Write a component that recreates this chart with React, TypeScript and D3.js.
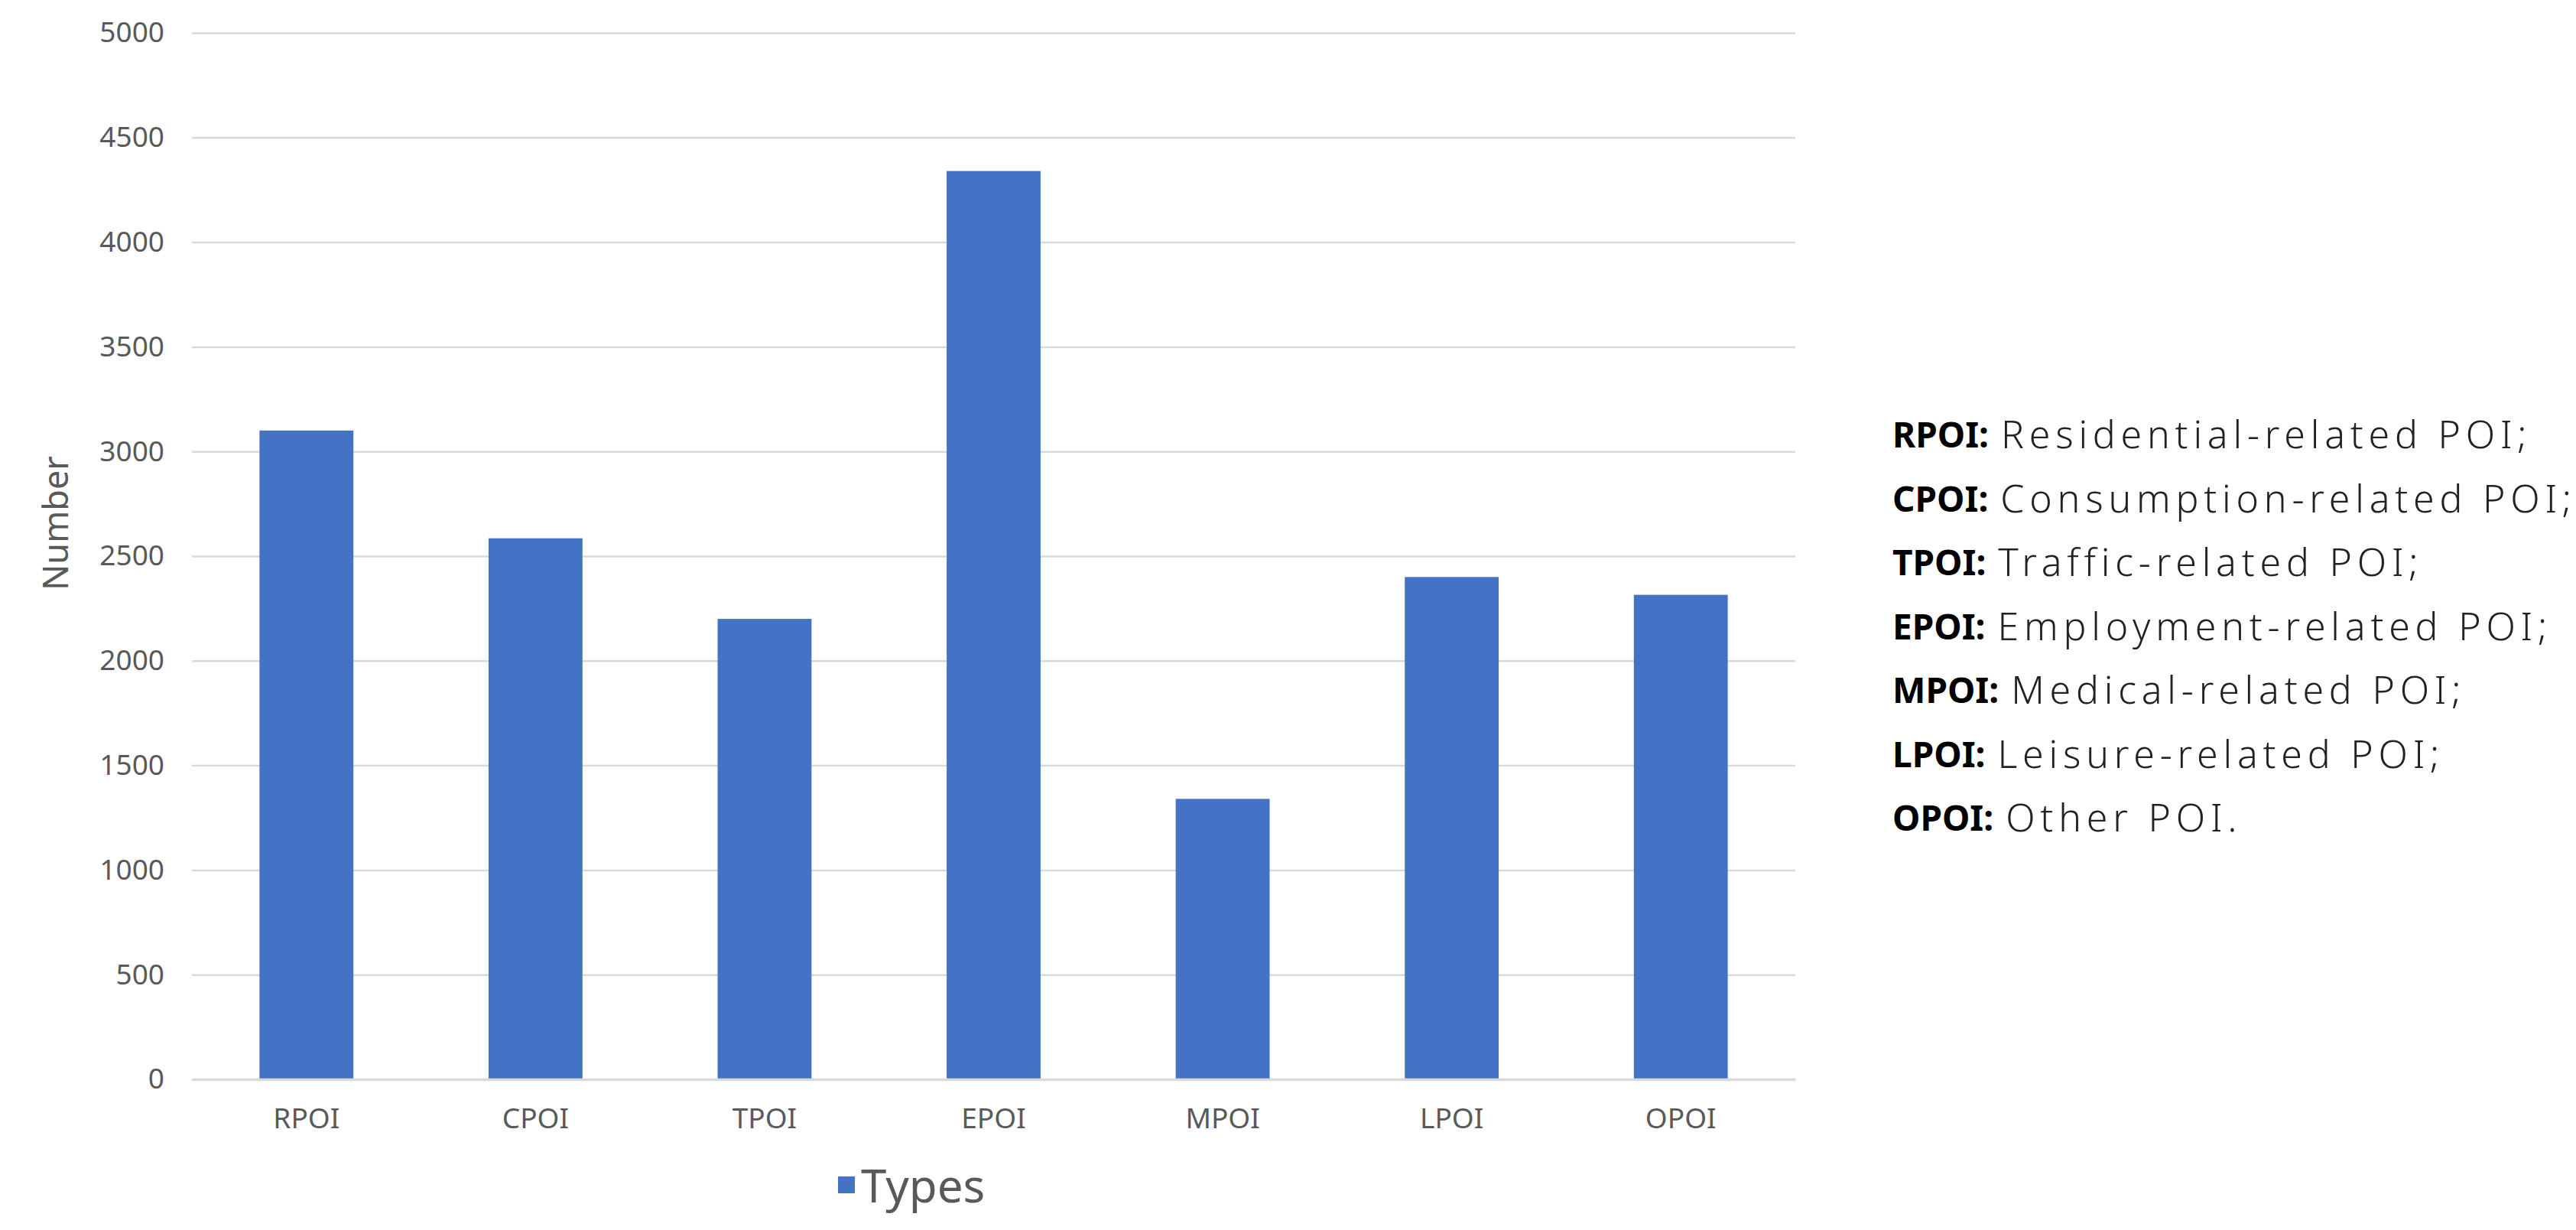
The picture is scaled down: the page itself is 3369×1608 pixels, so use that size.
import React, { useEffect, useRef } from 'react';
import * as d3 from 'd3';

// chart data
const categories = ['RPOI', 'CPOI', 'TPOI', 'EPOI', 'MPOI', 'LPOI', 'OPOI'];
const counts = [3100, 2585, 2200, 4340, 1340, 2400, 2315];
const yTicks = [0, 500, 1000, 1500, 2000, 2500, 3000, 3500, 4000, 4500, 5000];
const seriesName = 'Types';
const notePrefixes = ['RPOI:', 'CPOI:', 'TPOI:', 'EPOI:', 'MPOI:', 'LPOI:', 'OPOI:'];
const noteTexts = [
    'Residential-related POI;',
    'Consumption-related POI;',
    'Traffic-related POI;',
    'Employment-related POI;',
    'Medical-related POI;',
    'Leisure-related POI;',
    'Other POI.',
];

const App = () => {
    const svgRef = useRef<SVGSVGElement>(null);

    useEffect(() => {
        document.body.style.margin = '0';
        const W = 3369;
        const H = 1608;
        const margin = { top: 43, left: 251, right: W - 2348, bottom: H - 1411 };
        const width = W - margin.left - margin.right;
        const height = H - margin.top - margin.bottom;
        const font = "'Noto Sans', 'Open Sans', sans-serif";

        const svg = d3.select(svgRef.current)
            .attr('width', W)
            .attr('height', H);
        svg.selectAll('*').remove();

        svg.append('rect').attr('width', W).attr('height', H).attr('fill', '#ffffff');

        const g = svg.append('g')
            .attr('transform', `translate(${margin.left},${margin.top})`);

        const xScale = d3.scaleBand()
            .domain(categories)
            .range([0, width])
            .paddingInner(0.59)
            .paddingOuter(0.295);

        const yScale = d3.scaleLinear()
            .domain([0, 5000])
            .range([height, 0]);

        // gridlines + y labels
        const yAxis = g.append('g')
            .call(d3.axisLeft(yScale).tickValues(yTicks).tickFormat(d3.format('d')).tickSize(-width).tickPadding(36));
        yAxis.select('.domain').remove();
        yAxis.selectAll('.tick line')
            .attr('stroke', '#d9d9d9')
            .attr('stroke-width', 2.5);
        yAxis.selectAll('.tick text')
            .attr('fill', '#595959')
            .attr('font-family', font)
            .attr('font-size', 37);

        const bars = categories.map((c, i) => ({ c, v: counts[i] }));
        g.selectAll('.bar')
            .data(bars)
            .enter()
            .append('rect')
            .attr('x', d => xScale(d.c)!)
            .attr('y', d => yScale(d.v))
            .attr('width', xScale.bandwidth())
            .attr('height', d => height - yScale(d.v))
            .attr('fill', '#4472c4');

        const xAxis = g.append('g')
            .attr('transform', `translate(0,${height})`)
            .call(d3.axisBottom(xScale).tickSize(0).tickPadding(38));
        xAxis.select('.domain')
            .attr('stroke', '#d9d9d9')
            .attr('stroke-width', 3.5);
        xAxis.selectAll('.tick text')
            .attr('fill', '#595959')
            .attr('font-family', font)
            .attr('font-size', 37);

        // axis title
        svg.append('text')
            .attr('transform', `translate(71,${(margin.top + margin.top + height) / 2 - 43}) rotate(-90)`)
            .attr('text-anchor', 'middle')
            .attr('dominant-baseline', 'central')
            .attr('fill', '#595959')
            .attr('font-family', font)
            .attr('font-size', 45)
            .text('Number');

        // legend
        const legend = svg.append('g').attr('transform', 'translate(1096,1549)');
        legend.append('rect')
            .attr('x', 0)
            .attr('y', -11)
            .attr('width', 22)
            .attr('height', 22)
            .attr('fill', '#4472c4');
        legend.append('text')
            .attr('x', 30)
            .attr('y', 0)
            .attr('dominant-baseline', 'central')
            .attr('fill', '#595959')
            .attr('font-family', font)
            .attr('font-size', 60)
            .text(seriesName);

        // abbreviation notes
        const notes = svg.append('g').attr('transform', 'translate(2475,567)');
        notePrefixes.forEach((p, i) => {
            const t = notes.append('text')
                .attr('x', 0)
                .attr('y', i * 83.5)
                .attr('dominant-baseline', 'central')
                .attr('font-family', font)
                .attr('font-size', 46);
            t.append('tspan').attr('font-weight', 'bold').attr('fill', '#000').text(p);
            t.append('tspan')
                .attr('dx', 16)
                .attr('font-weight', 300)
                .attr('font-size', 50)
                .attr('letter-spacing', 6.8)
                .attr('fill', '#222')
                .text(noteTexts[i]);
        });
    }, []);

    return <svg ref={svgRef} style={{ display: 'block' }}></svg>;
};

export default App;
